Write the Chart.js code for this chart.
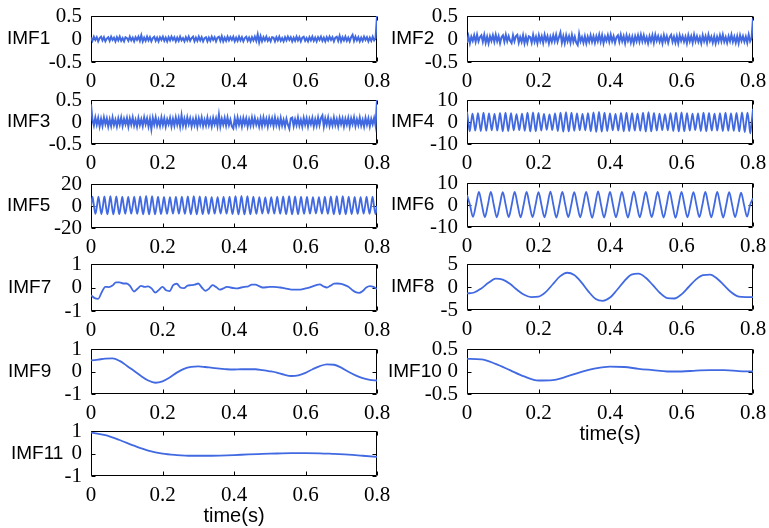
<!DOCTYPE html>
<html><head><meta charset="utf-8">
<script src="https://cdn.jsdelivr.net/npm/chart.js@4/dist/chart.umd.min.js"></script>
<style>
html,body{margin:0;padding:0;background:#fff;width:769px;height:528px;overflow:hidden;position:relative}
.p{position:absolute}
canvas{display:block}
</style></head><body>
<script>
// ---------- data ----------
const timeTicks = [0, 0.2, 0.4, 0.6, 0.8];
const names = ['IMF1','IMF2','IMF3','IMF4','IMF5','IMF6','IMF7','IMF8','IMF9','IMF10','IMF11'];
const yLimits = [0.5, 0.5, 0.5, 10, 20, 10, 1, 5, 1, 0.5, 1];
const xTitle = 'time(s)';

const imf1 = [0.03,-0.04,0.05,-0.02,0.04,-0.05,0.02,0.05,-0.03,0.04,-0.05,0.01,0.04,-0.04,0.05,-0.02,0.03,-0.05,0.04,-0.03,
0.05,-0.04,0.02,-0.05,0.04,0.02,-0.04,0.05,-0.03,0.03,-0.05,0.04,-0.02,0.05,-0.04,0.08,-0.05,0.03,-0.04,0.05,
-0.03,0.04,-0.05,0.02,0.05,-0.04,0.03,-0.05,0.04,-0.02,0.05,-0.04,0.03,-0.05,0.04,-0.03,0.05,-0.02,0.04,-0.05,
0.03,-0.04,0.05,-0.03,0.02,-0.05,0.04,-0.03,0.05,-0.04,0.02,0.05,-0.05,0.03,-0.04,0.05,-0.03,0.04,-0.05,0.02,
0.04,-0.05,0.03,-0.04,0.05,-0.02,0.04,-0.05,0.03,0.05,-0.04,0.06,-0.05,0.03,-0.04,0.05,-0.03,0.04,-0.02,0.05,
-0.05,0.03,-0.04,0.05,-0.03,0.04,-0.05,0.02,0.05,-0.04,0.03,-0.05,0.04,-0.03,0.05,-0.04,0.10,-0.07,0.06,-0.05,
0.04,-0.03,0.05,-0.04,0.02,-0.05,0.04,0.03,-0.05,0.04,-0.03,0.05,-0.04,0.02,-0.05,0.04,-0.03,0.05,-0.02,0.04,
-0.05,0.03,-0.04,0.05,-0.03,0.04,-0.05,0.03,0.05,-0.04,0.02,-0.05,0.04,-0.03,0.05,-0.04,0.03,-0.05,0.04,-0.02,
0.05,-0.04,0.03,-0.05,0.04,-0.03,0.05,-0.02,0.04,-0.05,0.03,0.05,-0.04,0.07,-0.05,0.04,-0.03,0.05,-0.04,0.03,
-0.05,0.04,0.09,-0.04,0.05,-0.03,0.04,-0.05,0.03,-0.04,0.05,-0.02,0.04,-0.05,0.03,-0.04,0.05,-0.03,0.02,0.5];

const imf2 = [-0.08,0.06,-0.09,0.05,-0.04,0.08,-0.06,0.09,-0.05,0.04,0.08,-0.06,0.09,-0.08,0.05,-0.09,0.06,-0.04,0.08,-0.06,
0.09,-0.05,0.06,-0.09,0.04,0.08,-0.06,0.09,-0.05,0.06,-0.04,-0.09,0.08,-0.05,0.06,0.09,-0.08,0.04,-0.06,0.08,
-0.09,0.05,-0.08,0.06,0.04,-0.08,0.09,-0.06,0.05,-0.09,0.08,-0.05,0.06,-0.08,0.09,-0.04,0.06,-0.09,0.05,-0.06,
0.08,-0.05,0.09,-0.06,0.04,0.14,-0.08,0.06,-0.09,0.08,-0.05,0.06,-0.08,0.09,-0.06,0.05,-0.08,-0.13,0.11,-0.05,
0.04,-0.08,0.06,-0.09,0.05,-0.06,0.08,-0.06,0.06,-0.08,0.06,-0.05,0.09,-0.06,0.08,-0.09,0.05,-0.04,0.08,-0.06,
0.09,-0.05,0.06,-0.08,0.04,0.08,-0.06,0.09,-0.05,0.06,-0.09,0.08,-0.04,0.06,-0.08,0.05,-0.09,0.06,-0.05,0.08,
-0.06,0.09,-0.05,0.08,-0.06,0.04,-0.09,0.06,-0.05,0.08,-0.08,0.09,-0.04,0.06,-0.06,0.05,-0.09,0.08,-0.05,0.06,
-0.08,0.04,0.09,-0.06,0.05,-0.08,0.06,-0.09,0.08,-0.04,0.06,-0.06,0.05,-0.09,0.08,-0.05,0.06,-0.08,0.09,-0.05,
0.06,-0.06,0.04,-0.09,0.08,-0.05,0.06,-0.08,0.09,-0.04,0.05,-0.08,0.06,-0.09,0.05,-0.06,0.08,-0.05,0.09,-0.06,
0.04,-0.08,0.06,-0.05,0.09,-0.06,0.05,-0.08,0.06,-0.09,0.08,-0.04,0.06,-0.06,0.05,-0.08,0.09,-0.05,0.02,0.45];

const imf3 = [0.4,0.05,-0.08,0.1,-0.06,0.09,-0.1,0.07,-0.09,0.1,-0.05,0.08,-0.1,0.06,-0.09,0.1,-0.07,0.05,-0.1,0.08,
-0.06,0.1,-0.09,0.07,-0.05,0.09,-0.1,0.08,-0.06,0.1,-0.08,0.05,-0.1,0.09,-0.07,0.06,-0.09,0.1,-0.05,0.08,
-0.1,0.07,-0.16,0.09,-0.06,0.1,-0.08,0.05,-0.09,0.1,-0.07,0.08,-0.1,0.06,-0.05,0.09,-0.1,0.07,-0.08,0.1,
-0.06,0.09,-0.1,0.15,-0.08,0.07,-0.09,0.1,-0.05,0.08,-0.1,0.06,-0.07,0.09,-0.1,0.08,-0.06,0.1,-0.09,0.05,
-0.08,0.1,-0.07,0.06,-0.1,0.09,-0.05,0.08,-0.09,0.16,-0.1,0.07,-0.06,0.09,-0.08,0.1,-0.07,0.05,-0.1,-0.15,
0.08,-0.09,0.1,-0.06,0.07,-0.1,0.09,-0.05,0.08,-0.1,0.06,-0.08,0.1,-0.07,0.09,-0.06,0.05,-0.1,0.08,-0.09,
0.1,-0.06,0.07,-0.1,0.09,-0.05,0.08,-0.09,0.1,-0.07,0.06,-0.1,0.09,-0.08,0.05,-0.1,0.07,-0.06,-0.15,0.08,
0.1,-0.09,0.06,-0.07,0.1,-0.08,0.05,-0.1,0.09,-0.06,0.08,-0.1,0.07,-0.05,0.09,-0.1,0.06,-0.08,0.1,-0.07,
0.09,0.15,-0.1,0.08,-0.06,0.1,-0.09,0.05,-0.08,0.1,-0.07,0.06,-0.1,0.09,-0.05,0.08,-0.1,0.07,-0.06,0.09,
-0.1,0.08,-0.05,0.1,-0.09,0.06,-0.07,0.1,-0.08,0.05,-0.1,0.09,-0.06,0.08,-0.1,0.07,-0.05,0.09,-0.08,0.5];

const imf4 = [4.7,0,-4.2,0, 3.8,0,-3.9,0, 4,0,-4.1,0, 4.2,0,-4,0,
3.9,0,-3.8,0, 3.7,0,-3.9,0, 4.1,0,-4.2,0, 4.3,0,-4.1,0,
4,0,-3.8,0, 3.6,0,-3.7,0, 3.8,0,-4,0, 4.2,0,-4.3,0,
4.4,0,-4.2,0, 4.1,0,-3.9,0, 3.7,0,-3.6,0, 3.5,0,-3.7,0,
3.9,0,-4.1,0, 4.3,0,-4.4,0, 4.5,0,-4.3,0, 4.2,0,-4,0,
3.9,0,-3.8,0, 3.7,0,-3.8,0, 4,0,-4.2,0, 4.4,0,-4.5,0,
4.6,0,-4.4,0, 4.3,0,-4.1,0, 3.9,0,-3.8,0, 3.7,0,-3.9,0,
4.1,0,-4.2,0, 4.3,0,-4.1,0, 4,0,-3.9,0, 3.8,0,-4,0,
4.2,0,-4.4,0, 4.5,0,-4.3,0, 4.1,0,-3.9,0, 3.8,0,-3.7,0,
3.6,0,-3.8,0, 4,0,-4.1,0, 4.2,0,-4.3,0, 4.4,0,-4.2,0,
4,0,-3.9,0, 3.8,0,-3.7,0, 3.9,0,-4.1,0, 4.3,0,-4.2,0,
4.1,0,-3.9,0, 3.8,0,-3.9,0, 4,0,-4.1,0, 4.2,0,-4,0,
3.9,0,-4,0, 4.1,0,-4.3,0, 4.4,0,-4.6,0, 4.2,0,-5.2,0,
6];

const imf5 = [0,8.4,0,-7.2, 0,8.6,0,-7.3, 0,8.8,0,-7.5, 0,9,0,-7.6,
0,8.7,0,-7.4, 0,8.4,0,-7.1, 0,8.2,0,-7, 0,8.5,0,-7.2,
0,8.8,0,-7.5, 0,9.1,0,-7.7, 0,9,0,-7.6, 0,8.6,0,-7.3,
0,8.3,0,-7.1, 0,8.1,0,-6.9, 0,8.2,0,-7, 0,8.5,0,-7.2,
0,8.8,0,-7.5, 0,9,0,-7.6, 0,8.7,0,-7.4, 0,8.4,0,-7.2,
0,8.1,0,-7, 0,8,0,-6.8, 0,8.2,0,-7, 0,8.6,0,-7.3,
0,9,0,-7.6, 0,9.1,0,-7.7, 0,8.9,0,-7.5, 0,8.5,0,-7.2,
0,8.1,0,-6.9, 0,7.9,0,-6.8, 0,8.1,0,-6.9, 0,8.4,0,-7.1,
0,8.7,0,-7.4, 0,9,0,-7.6, 0,8.8,0,-7.5, 0,8.5,0,-7.2,
0,8.2,0,-7, 0,8,0,-6.8, 0,8.1,0,-6.9, 0,8.5,0,-7.2,
0,8.8,0,-7.5, 0,9,0,-7.6, 0,8.9,0,-7.5, 0,8.6,0,-7.3,
0,8.3,0,-7.1, 0,8.1,0,-6.9, 0,8.4,0,-7.1, 0,8.6,0,-7.3,
0];

const imf6 = [4.5,0,-5.4,0, 6,0,-5.5,0, 5.9,0,-5.6,0, 5.8,0,-5.5,0,
6,0,-5.6,0, 5.9,0,-5.5,0, 5.8,0,-5.6,0, 6.1,0,-5.7,0,
5.9,0,-5.5,0, 5.8,0,-5.6,0, 6,0,-5.8,0, 6.2,0,-5.7,0,
6,0,-5.6,0, 5.9,0,-5.7,0, 6.1,0,-5.6,0, 5.9,0,-5.5,0,
6,0,-5.7,0, 6.2,0,-5.8,0, 6,0,-5.6,0, 5.8,0,-5.5,0,
5.9,0,-5.6,0, 6,0,-5.7,0, 5.8,0,-5.5,0, 5.6,0,-5.3,0,
3];

const imf7 = [-0.33,-0.45,-0.48,-0.2,0.03,0.02,0.08,0.22,0.22,0.17,0.17,0.05,-0.17,-0.05,0.07,0.03,0.05,-0.05,-0.22,-0.1,
0.03,-0.12,-0.15,0.1,0.16,0.0,-0.03,0.08,0.1,0.12,0.17,0.0,-0.14,-0.05,0.1,0.02,-0.09,-0.04,0.03,0.0,
-0.03,-0.04,0.0,0.03,0.05,0.12,0.12,0.06,0.0,0.01,0.03,0.03,0.02,0.0,-0.03,-0.06,-0.09,-0.09,-0.09,-0.08,
-0.04,-0.01,0.05,0.1,0.13,0.05,0.0,0.08,0.16,0.17,0.15,0.1,0.03,-0.1,-0.2,-0.23,-0.15,0.0,0.06,0.03,-0.06];

const imf8 = [-1.4,-1.2,-0.3,0.9,1.8,1.6,0.7,-0.6,-1.7,-2.2,-2.1,-1.1,0.6,2.3,3.1,2.6,1.0,-1.0,-2.6,-3.0,
-2.3,-0.6,1.3,2.7,2.9,2.0,0.4,-1.3,-2.4,-2.5,-1.6,0.0,1.6,2.6,2.7,1.8,0.3,-1.2,-2.1,-2.2,-2.2];

const imf9 = [0.49,0.53,0.57,0.58,0.47,0.26,0.03,-0.2,-0.4,-0.5,-0.44,-0.27,-0.05,0.12,0.21,0.23,0.2,0.16,0.13,0.1,
0.09,0.1,0.1,0.1,0.06,0.01,-0.05,-0.14,-0.2,-0.17,-0.06,0.1,0.24,0.32,0.3,0.17,-0.01,-0.17,-0.29,-0.37,-0.4];

const imf10 = [0.28,0.27,0.17,0.03,-0.11,-0.2,-0.19,-0.11,-0.01,0.07,0.11,0.1,0.06,0.03,0.0,0.0,0.02,0.03,0.03,0.01,0.0];

const imf11 = [0.93,0.82,0.6,0.35,0.13,-0.01,-0.07,-0.1,-0.1,-0.09,-0.07,-0.04,-0.02,0.0,0.02,0.02,0.01,-0.02,-0.05,-0.1,-0.15];

const series = [imf1, imf2, imf3, imf4, imf5, imf6, imf7, imf8, imf9, imf10, imf11];

// ---------- layout (page pixels) ----------
const boxW = 286;
const boxLeft = [91, 467, 91, 467, 91, 467, 91, 467, 91, 467, 91];
const boxTop  = [16, 16, 100, 100, 184, 183, 264, 264, 349, 349, 431];
const boxH    = [46, 46, 44, 44, 44, 44, 47, 46, 45, 45, 45];
const labelX  = [7, 391, 7, 391, 7, 391, 8, 391, 8, 388, 11];
const smooth  = [false, false, false, true, true, true, true, true, true, true, true];
const hasTitle= [false, false, false, false, false, false, false, false, false, true, true];

const LINE = 'rgb(65,105,225)';
const SERIF = '"Liberation Serif", "Times New Roman", serif';
const SANS = '"Liberation Sans", Arial, sans-serif';
const PADL = 91, PADT = 13, PADR = 22;

const fmt = v => String(Math.round(v * 100) / 100);

const framePlugin = {
  id: 'frame',
  beforeDatasetsDraw(chart, args, opts) {
    const {ctx, chartArea: a, scales: {x, y}} = chart;
    ctx.save();
    ctx.strokeStyle = '#000';
    ctx.lineWidth = 1;
    const l = Math.round(a.left) + 0.5, r = Math.round(a.right) - 0.5;
    const t = Math.round(a.top) + 0.5, b = Math.round(a.bottom) - 0.5;
    ctx.beginPath();
    ctx.rect(l, t, r - l, b - t);
    x.ticks.forEach(tk => {
      const px = Math.round(x.getPixelForValue(tk.value)) + 0.5;
      ctx.moveTo(px, b); ctx.lineTo(px, b - 4);
      ctx.moveTo(px, t); ctx.lineTo(px, t + 4);
    });
    y.ticks.forEach(tk => {
      const py = Math.round(y.getPixelForValue(tk.value)) + 0.5;
      ctx.moveTo(l, py); ctx.lineTo(l + 4, py);
      ctx.moveTo(r, py); ctx.lineTo(r - 4, py);
    });
    ctx.stroke();
    ctx.restore();
  },
  afterDraw(chart, args, opts) {
    const {ctx, scales: {y}} = chart;
    ctx.save();
    ctx.fillStyle = '#000';
    ctx.font = '19px ' + SANS;
    ctx.textBaseline = 'middle';
    ctx.textAlign = 'left';
    ctx.fillText(opts.text, opts.x, y.getPixelForValue(0));
    ctx.restore();
  }
};

series.forEach((vals, i) => {
  const n = vals.length;
  const pts = vals.map((v, k) => ({x: k * 0.8 / (n - 1), y: v}));
  const axisH = hasTitle[i] ? 52 : 30;
  const W = PADL + boxW + PADR;
  const H = PADT + boxH[i] + axisH;
  const div = document.createElement('div');
  div.className = 'p';
  div.style.left = (boxLeft[i] - PADL) + 'px';
  div.style.top = (boxTop[i] - PADT) + 'px';
  const cv = document.createElement('canvas');
  cv.width = W; cv.height = H;
  cv.style.width = W + 'px'; cv.style.height = H + 'px';
  div.appendChild(cv);
  document.body.appendChild(div);
  const lim = yLimits[i];
  new Chart(cv, {
    type: 'line',
    data: { datasets: [{
      data: pts,
      borderColor: LINE,
      borderWidth: smooth[i] ? 1.8 : 2,
      pointRadius: 0,
      fill: false,
      tension: 0,
      cubicInterpolationMode: smooth[i] ? 'monotone' : 'default'
    }]},
    options: {
      responsive: false,
      animation: false,
      events: [],
      layout: { padding: { left: 0, top: PADT, right: PADR, bottom: 0 } },
      plugins: {
        legend: { display: false },
        tooltip: { enabled: false },
        frame: { text: names[i], x: labelX[i] - (boxLeft[i] - PADL) }
      },
      scales: {
        x: {
          type: 'linear', min: timeTicks[0], max: timeTicks[timeTicks.length - 1],
          afterBuildTicks: s => { s.ticks = timeTicks.map(v => ({value: v})); },
          ticks: { font: { family: SERIF, size: 21 }, color: '#000', padding: 7, maxRotation: 0, autoSkip: false, callback: v => fmt(v) },
          grid: { display: false, drawTicks: false },
          border: { display: false },
          title: { display: hasTitle[i], text: xTitle, color: '#000', font: { family: SANS, size: 20 }, padding: 0 },
          afterFit: s => { s.height = axisH; s.paddingLeft = 0; s.paddingRight = 0; }
        },
        y: {
          min: -lim, max: lim,
          afterBuildTicks: s => { s.ticks = [-lim, 0, lim].map(v => ({value: v})); },
          ticks: { font: { family: SERIF, size: 21 }, color: '#000', padding: 9, autoSkip: false, callback: v => fmt(v) },
          grid: { display: false, drawTicks: false },
          border: { display: false },
          afterFit: s => { s.width = PADL; s.paddingTop = 0; s.paddingBottom = 0; }
        }
      }
    },
    plugins: [framePlugin]
  });
});
</script>
</body></html>
